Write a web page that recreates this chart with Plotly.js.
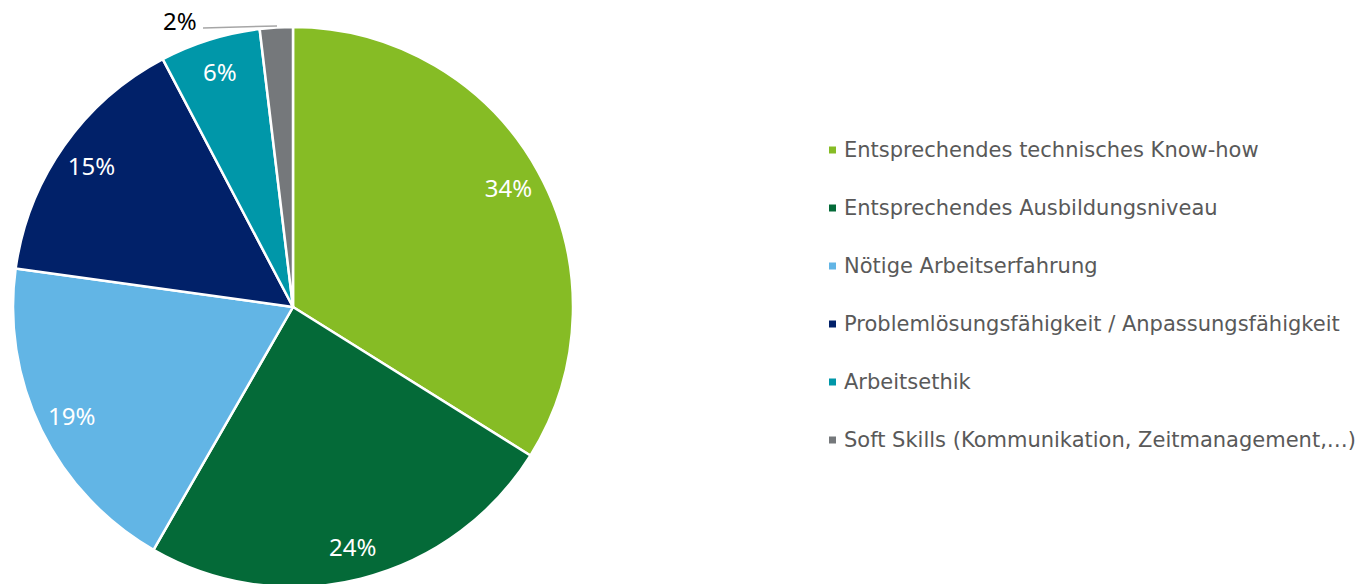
<!DOCTYPE html>
<html>
<head>
<meta charset="utf-8">
<script src="https://cdn.plot.ly/plotly-3.0.1.min.js"></script>
<style>
html,body{margin:0;padding:0;overflow:hidden;background:#fff;}
#chart{width:1369px;height:590px;}
</style>
</head>
<body>
<div id="chart"></div>
<script>
const categories = [
  "Entsprechendes technisches Know-how",
  "Entsprechendes Ausbildungsniveau",
  "Nötige Arbeitserfahrung",
  "Problemlösungsfähigkeit / Anpassungsfähigkeit",
  "Arbeitsethik",
  "Soft Skills (Kommunikation, Zeitmanagement,…)"
];
const shares = [33.9, 24.4, 18.9, 15.1, 5.8, 1.9];
const colors = ["#86BC25", "#046A38", "#62B5E5", "#012169", "#0097A9", "#75787B"];

const W = 1369, H = 590;
const total = shares.reduce((a, b) => a + b, 0);
const templates = shares.map((v, i) => i === shares.length - 1 ? "" : "%{percent:.0%}");
const dom = {x: [13 / W, 573 / W], y: [3 / H, 563 / H]};

const pieTrace = {
  type: "pie",
  labels: categories,
  values: shares,
  sort: false,
  direction: "clockwise",
  rotation: 0,
  marker: {colors: colors, line: {color: "#ffffff", width: 2.5}},
  textinfo: "none",
  hoverinfo: "label+percent",
  domain: dom,
  showlegend: false
};

// transparent ring on top that carries the percentage labels near the rim
const labelRing = {
  type: "pie",
  labels: categories,
  values: shares,
  sort: false,
  direction: "clockwise",
  rotation: 0,
  hole: 0.76,
  marker: {colors: shares.map(() => "rgba(0,0,0,0)"), line: {width: 0}},
  texttemplate: templates,
  textposition: "inside",
  insidetextorientation: "horizontal",
  insidetextfont: {family: "Noto Sans, Open Sans, sans-serif", size: 24, color: "#ffffff"},
  hoverinfo: "skip",
  domain: dom,
  showlegend: false
};

const annotations = [];
const shapes = [];
const legTop = 150, legGap = 58;
categories.forEach((c, i) => {
  const yc = legTop + i * legGap;
  shapes.push({
    type: "rect", xref: "paper", yref: "paper",
    x0: 829 / W, x1: 836 / W, y0: (H - yc - 3.5) / H, y1: (H - yc + 3.5) / H,
    fillcolor: colors[i], line: {width: 0}
  });
  annotations.push({
    xref: "paper", yref: "paper", x: 842 / W, y: (H - yc) / H,
    xanchor: "left", yanchor: "middle", showarrow: false,
    text: c, font: {family: "DejaVu Sans, Verdana, sans-serif", size: 21, color: "#595959"}
  });
});

// small slice label outside with leader line
const lastPct = Math.round(shares[shares.length - 1] / total * 100) + "%";
shapes.push({
  type: "line", xref: "paper", yref: "paper",
  x0: 203 / W, y0: (H - 28) / H, x1: 277 / W, y1: (H - 26) / H,
  line: {color: "#A6A6A6", width: 1.5}
});
annotations.push({
  xref: "paper", yref: "paper", x: 199 / W, y: (H - 20) / H,
  xanchor: "right", yanchor: "middle", showarrow: false,
  text: lastPct, font: {family: "Noto Sans, Open Sans, sans-serif", size: 24, color: "#000000"}
});

const layout = {
  width: W, height: H,
  margin: {l: 0, r: 0, t: 0, b: 0},
  paper_bgcolor: "#ffffff",
  plot_bgcolor: "#ffffff",
  showlegend: false,
  annotations: annotations,
  shapes: shapes
};

Plotly.newPlot("chart", [pieTrace, labelRing], layout, {displayModeBar: false, staticPlot: true});
</script>
</body>
</html>
